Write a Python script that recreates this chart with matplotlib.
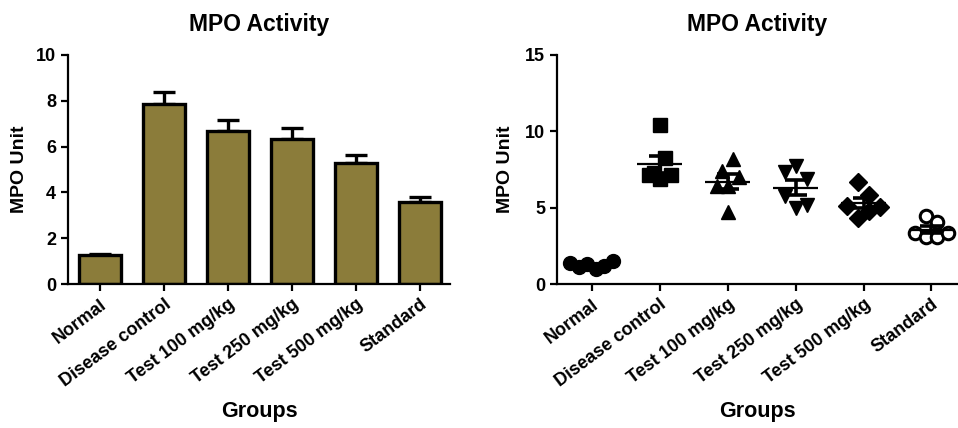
import numpy as np
import matplotlib
matplotlib.use('Agg')
import matplotlib.pyplot as plt

plt.rcParams['font.family'] = ['Liberation Sans', 'DejaVu Sans']
plt.rcParams['font.weight'] = 'bold'

groups = ['Normal', 'Disease control', 'Test 100 mg/kg', 'Test 250 mg/kg',
          'Test 500 mg/kg', 'Standard']

# individual MPO values per group (left to right)
normal = [1.4, 1.1, 1.3, 1.0, 1.2, 1.5]
disease_control = [10.4, 7.15, 6.85, 7.15, 7.3, 8.25]
test_100 = [7.4, 8.2, 6.45, 6.4, 7.0, 4.7]
test_250 = [7.35, 7.75, 6.9, 5.75, 4.95, 5.2]
test_500 = [6.7, 5.85, 5.1, 4.3, 4.8, 5.05]
standard = [4.45, 4.05, 3.35, 3.1, 3.1, 3.35]

data = [normal, disease_control, test_100, test_250, test_500, standard]
means = np.array([np.mean(d) for d in data])
sems = np.array([np.std(d, ddof=1) / np.sqrt(len(d)) for d in data])

markers = ['o', 's', '^', 'v', 'D', 'o']
filled = [True, True, True, True, True, False]
msizes = [10, 10, 10, 10, 9, 9]

bar_color = '#8b7c3a'
x = np.arange(len(groups))


def spread(vals, px_per_y, px_per_x, row_px=16.0):
    # group points that sit close in y into rows, centre each row
    order = np.argsort(vals)[::-1]
    offs = np.zeros(len(vals))
    rows = []
    for i in order:
        if rows and (vals[rows[-1][0]] - vals[i]) * px_per_y < row_px:
            rows[-1].append(i)
        else:
            rows.append([i])
    for row in rows:
        row = sorted(row)  # keep the reading order inside a row
        n = len(row)
        gap_px = 11.0 if n <= 4 else 8.5
        pos = (np.arange(n) - (n - 1) / 2.0) * gap_px / px_per_x
        for k, i in enumerate(row):
            offs[i] = pos[k]
    return offs


def style_axes(ax, ylim, yticks):
    for s in ['top', 'right']:
        ax.spines[s].set_visible(False)
    for s in ['left', 'bottom']:
        ax.spines[s].set_linewidth(1.6)
    ax.set_ylim(*ylim)
    ax.set_yticks(yticks)
    ax.tick_params(axis='both', direction='out', width=1.6, length=5,
                   labelsize=13)
    ax.set_xticks(x)
    ax.set_xticklabels(groups, rotation=37, ha='right', rotation_mode='anchor',
                       fontweight='bold')
    for lab in ax.get_yticklabels():
        lab.set_fontweight('bold')
    ax.set_title('MPO Activity', fontsize=16.5, fontweight='bold', pad=17)
    ax.set_ylabel('MPO Unit', fontsize=14, fontweight='bold')
    ax.set_xlabel('Groups', fontsize=15.5, fontweight='bold')


fig = plt.figure(figsize=(9.58, 4.28), dpi=100)

# left: bar chart with SEM
ax1 = fig.add_axes([0.071, 0.3364, 0.399, 0.5351])
ax1.bar(x, means, width=0.66, color=bar_color, edgecolor='black',
        linewidth=2.4, zorder=2)
ax1.errorbar(x, means, yerr=[np.zeros(len(x)), sems], fmt='none',
             ecolor='black', elinewidth=2.4, capsize=8, capthick=2.4, zorder=1)
ax1.set_xlim(-0.5, 5.47)
style_axes(ax1, (0, 10), [0, 2, 4, 6, 8, 10])

# right: scatter with mean and SEM
ax2 = fig.add_axes([0.5814, 0.3364, 0.4186, 0.5351])
ax2.set_xlim(-0.51, 5.39)
for i, d in enumerate(data):
    vals = np.array(d)
    offs = spread(vals, 228 / 15.0, 68.0)
    fc = 'black' if filled[i] else 'white'
    ax2.plot(x[i] + offs, vals, linestyle='none', marker=markers[i],
             markersize=msizes[i], markerfacecolor=fc, markeredgecolor='black',
             markeredgewidth=2.2 if not filled[i] else 1.0, zorder=3)
    ax2.hlines(means[i], x[i] - 0.33, x[i] + 0.33, color='black',
               linewidth=1.6, zorder=4)
    ax2.errorbar(x[i], means[i], yerr=sems[i], fmt='none', ecolor='black',
                 elinewidth=2.6, capsize=8, capthick=2.6, zorder=4)
style_axes(ax2, (0, 15), [0, 5, 10, 15])

ax1.yaxis.set_label_coords(-0.105, 0.5)
ax2.yaxis.set_label_coords(-0.107, 0.5)
for ax in (ax1, ax2):
    ax.xaxis.set_label_coords(0.5, -0.51)

fig.savefig('out.png', dpi=100)
